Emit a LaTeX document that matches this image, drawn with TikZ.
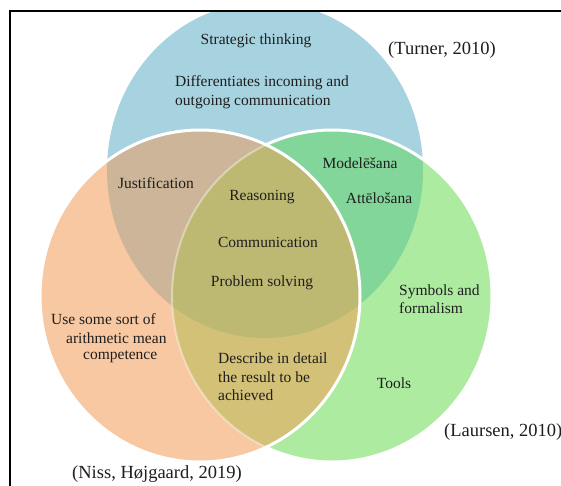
\documentclass[tikz,border=0pt]{standalone}
\usepackage{fontspec}
\setmainfont{Liberation Serif}
\definecolor{cblue}{HTML}{A7D3E0}
\definecolor{corange}{HTML}{F8C8A2}
\definecolor{cgreen}{HTML}{ADEBA0}
\definecolor{cbo}{HTML}{CCB598}
\definecolor{cbg}{HTML}{82D69A}
\definecolor{cog}{HTML}{D3C178}
\definecolor{call}{HTML}{BEB972}
\definecolor{ctext}{HTML}{1E1E1E}
\begin{document}
\begin{tikzpicture}[x=1pt,y=-1pt,
  txt/.style={font=\fontsize{15.5}{18.5}\selectfont, text=ctext, inner sep=0pt},
  cite/.style={font=\fontsize{18.5}{22}\selectfont, text=ctext, inner sep=0pt}]
\useasboundingbox (0,0) rectangle (561,486);
\fill[white] (0,0) rectangle (561,486);
\def\shB{(265,170) ellipse [x radius=158pt, y radius=168pt]}
\def\shO{(200,296) ellipse [x radius=160pt, y radius=166pt]}
\def\shG{(332,296) ellipse [x radius=160pt, y radius=166pt]}
\begin{scope}
  \clip (10,11) rectangle (561,486);
  \fill[cblue] \shB;
  \fill[cgreen] \shG;
  \begin{scope}\clip \shB; \fill[cbg] \shG; \end{scope}
  \draw[white, line width=3pt] \shG;
  \fill[corange] \shO;
  \begin{scope}
    \clip \shO;
    \fill[cbo] \shB;
    \fill[cog] \shG;
    \clip \shB;
    \fill[call] \shG;
  \end{scope}
  \begin{scope}\clip \shO; \draw[white, opacity=0.4, line width=2pt] \shG; \end{scope}
  \draw[white, line width=3pt] \shO;
\end{scope}
\draw[line width=2pt, line join=miter] (561,11) -- (10,11) -- (10,486);
% texts
\node[txt] (strat) at (256,41) {Strategic thinking};
\node[txt, align=left, anchor=west] (diff) at (175,92) {Differentiates incoming and\\outgoing communication};
\node[cite, anchor=west] (turner) at (388,50) {(Turner, 2010)};
\node[txt] (just) at (156,183) {Justification};
\node[txt] (reas) at (262,197) {Reasoning};
\node[txt] (comm) at (268,242) {Communication};
\node[txt] (prob) at (262,283) {Problem solving};
\node[txt] (model) at (360,163) {Modelēšana};
\node[txt] (attel) at (379,198) {Attēlošana};
\node[txt, align=left, anchor=west] (symb) at (399,299) {Symbols and\\formalism};
\node[txt] (tools) at (394,383) {Tools};
\node[txt, align=left, anchor=west] (descr) at (218,377) {Describe in detail\\the result to be\\achieved};
\node[txt, anchor=west] (use) at (51,319) {Use some sort of};
\node[txt, anchor=west] (arith) at (66,338) {arithmetic mean};
\node[txt, anchor=west] (compet) at (83,357) {competence};
\node[cite, anchor=west] (laursen) at (444,432) {(Laursen, 2010)};
\node[cite, anchor=west] (niss) at (72,474) {(Niss, Højgaard, 2019)};
\end{tikzpicture}
\end{document}
